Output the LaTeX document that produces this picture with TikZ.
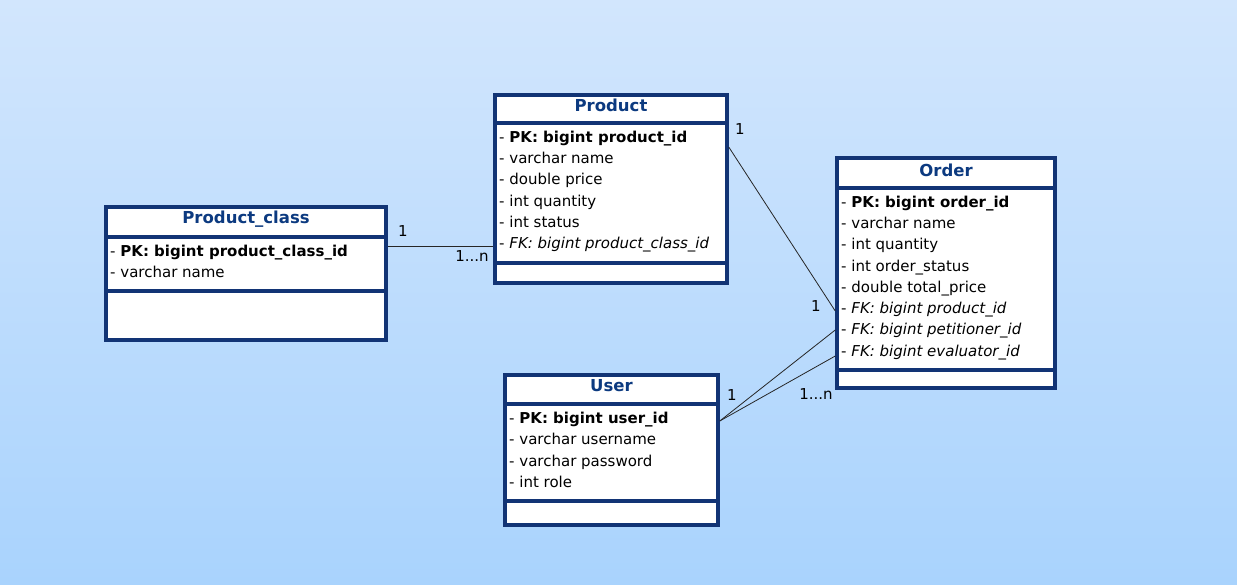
\documentclass[tikz,border=0pt]{standalone}
\usepackage{fontspec}
\setmainfont{DejaVu Sans}
\usepackage{tikz}
\usetikzlibrary{positioning,calc,shadows}
\definecolor{bgtop}{RGB}{210, 230, 253}
\definecolor{bgbottom}{RGB}{169, 211, 253}
\definecolor{umlnavy}{RGB}{18, 52, 117}
\definecolor{umltitle}{RGB}{12, 58, 128}

\tikzset{
  classbox/.style={draw=umlnavy, line width=3.5pt, fill=white, inner sep=0pt,
    drop shadow={shadow xshift=2pt, shadow yshift=-2pt, opacity=0.25}},
  classtitle/.style={font=\fontsize{16.5}{18}\selectfont\bfseries, text=umltitle, inner sep=0pt},
  sepline/.style={draw=umlnavy, line width=3.5pt},
  attr/.style={anchor=west, inner sep=0pt, text height=11pt, text depth=3pt,
    font=\fontsize{15}{17}\selectfont},
  conn/.style={draw=black!85, line width=0.8pt},
  mult/.style={font=\fontsize{15}{17}\selectfont, inner sep=0pt}
}

\begin{document}
\begin{tikzpicture}[x=1pt, y=-1pt]
\useasboundingbox (0,0) rectangle (1237,584);
\shade[top color=bgtop, bottom color=bgbottom] (0,0) rectangle (1237,584);

% Product_class
\node[classbox, minimum width=280pt, minimum height=133pt] (pclass) at (246,273.5) {};
\node[classtitle] (pclasstitle) at (246,219) {Product\_class};
\draw[sepline] (pclass.west |- 0,237) -- (pclass.east |- 0,237);
\draw[sepline] (pclass.west |- 0,291) -- (pclass.east |- 0,291);
\node[attr] (pclasspk) at (110,252) {- \textbf{PK: bigint product\_class\_id}};
\node[attr] (pclassname) at (110,273) {- varchar name};

% Product
\node[classbox, minimum width=232pt, minimum height=188pt] (product) at (611,189) {};
\node[classtitle] (producttitle) at (611,105) {Product};
\draw[sepline] (product.west |- 0,123) -- (product.east |- 0,123);
\draw[sepline] (product.west |- 0,263) -- (product.east |- 0,263);
\node[attr] (prodpk) at (499,138) {- \textbf{PK: bigint product\_id}};
\node[attr] (prodname) at (499,159) {- varchar name};
\node[attr] (prodprice) at (499,180) {- double price};
\node[attr] (prodqty) at (499,202) {- int quantity};
\node[attr] (prodstatus) at (499,223) {- int status};
\node[attr] (prodfk) at (499,244) {- \textit{FK: bigint product\_class\_id}};

% Order
\node[classbox, minimum width=218pt, minimum height=230pt] (order) at (946,273) {};
\node[classtitle] (ordertitle) at (946,170) {Order};
\draw[sepline] (order.west |- 0,188) -- (order.east |- 0,188);
\draw[sepline] (order.west |- 0,370) -- (order.east |- 0,370);
\node[attr] (ordpk) at (841,203) {- \textbf{PK: bigint order\_id}};
\node[attr] (ordname) at (841,224) {- varchar name};
\node[attr] (ordqty) at (841,245) {- int quantity};
\node[attr] (ordstatus) at (841,267) {- int order\_status};
\node[attr] (ordprice) at (841,288) {- double total\_price};
\node[attr] (ordfkprod) at (841,309) {- \textit{FK: bigint product\_id}};
\node[attr] (ordfkpet) at (841,330) {- \textit{FK: bigint petitioner\_id}};
\node[attr] (ordfkeval) at (841,352) {- \textit{FK: bigint evaluator\_id}};

% User
\node[classbox, minimum width=213pt, minimum height=150pt] (user) at (611.5,450) {};
\node[classtitle] (usertitle) at (611.5,386) {User};
\draw[sepline] (user.west |- 0,404) -- (user.east |- 0,404);
\draw[sepline] (user.west |- 0,501) -- (user.east |- 0,501);
\node[attr] (userpk) at (509,419) {- \textbf{PK: bigint user\_id}};
\node[attr] (username) at (509,440) {- varchar username};
\node[attr] (userpass) at (509,462) {- varchar password};
\node[attr] (userrole) at (509,483) {- int role};

% associations
\draw[conn] ($(pclass.east |- prodfk)+(0,2)$) -- ($(product.west |- prodfk)+(0,2)$);
\draw[conn] ($(product.east |- prodpk)+(0,9)$) -- ($(order.west |- ordfkprod)+(0,2)$);
\draw[conn] ($(user.east |- userpk)+(0,2)$) -- (order.west |- ordfkpet);
\draw[conn] ($(user.east |- userpk)+(0,2)$) -- ($(order.west |- ordfkeval)+(0,4)$);

\node[mult] (m1) at (403,231) {1};
\node[mult] (m2) at (472,256) {1...n};
\node[mult] (m3) at (740,129) {1};
\node[mult] (m4) at (816,306) {1};
\node[mult] (m5) at (732,395) {1};
\node[mult] (m6) at (816,394) {1...n};
\end{tikzpicture}
\end{document}
